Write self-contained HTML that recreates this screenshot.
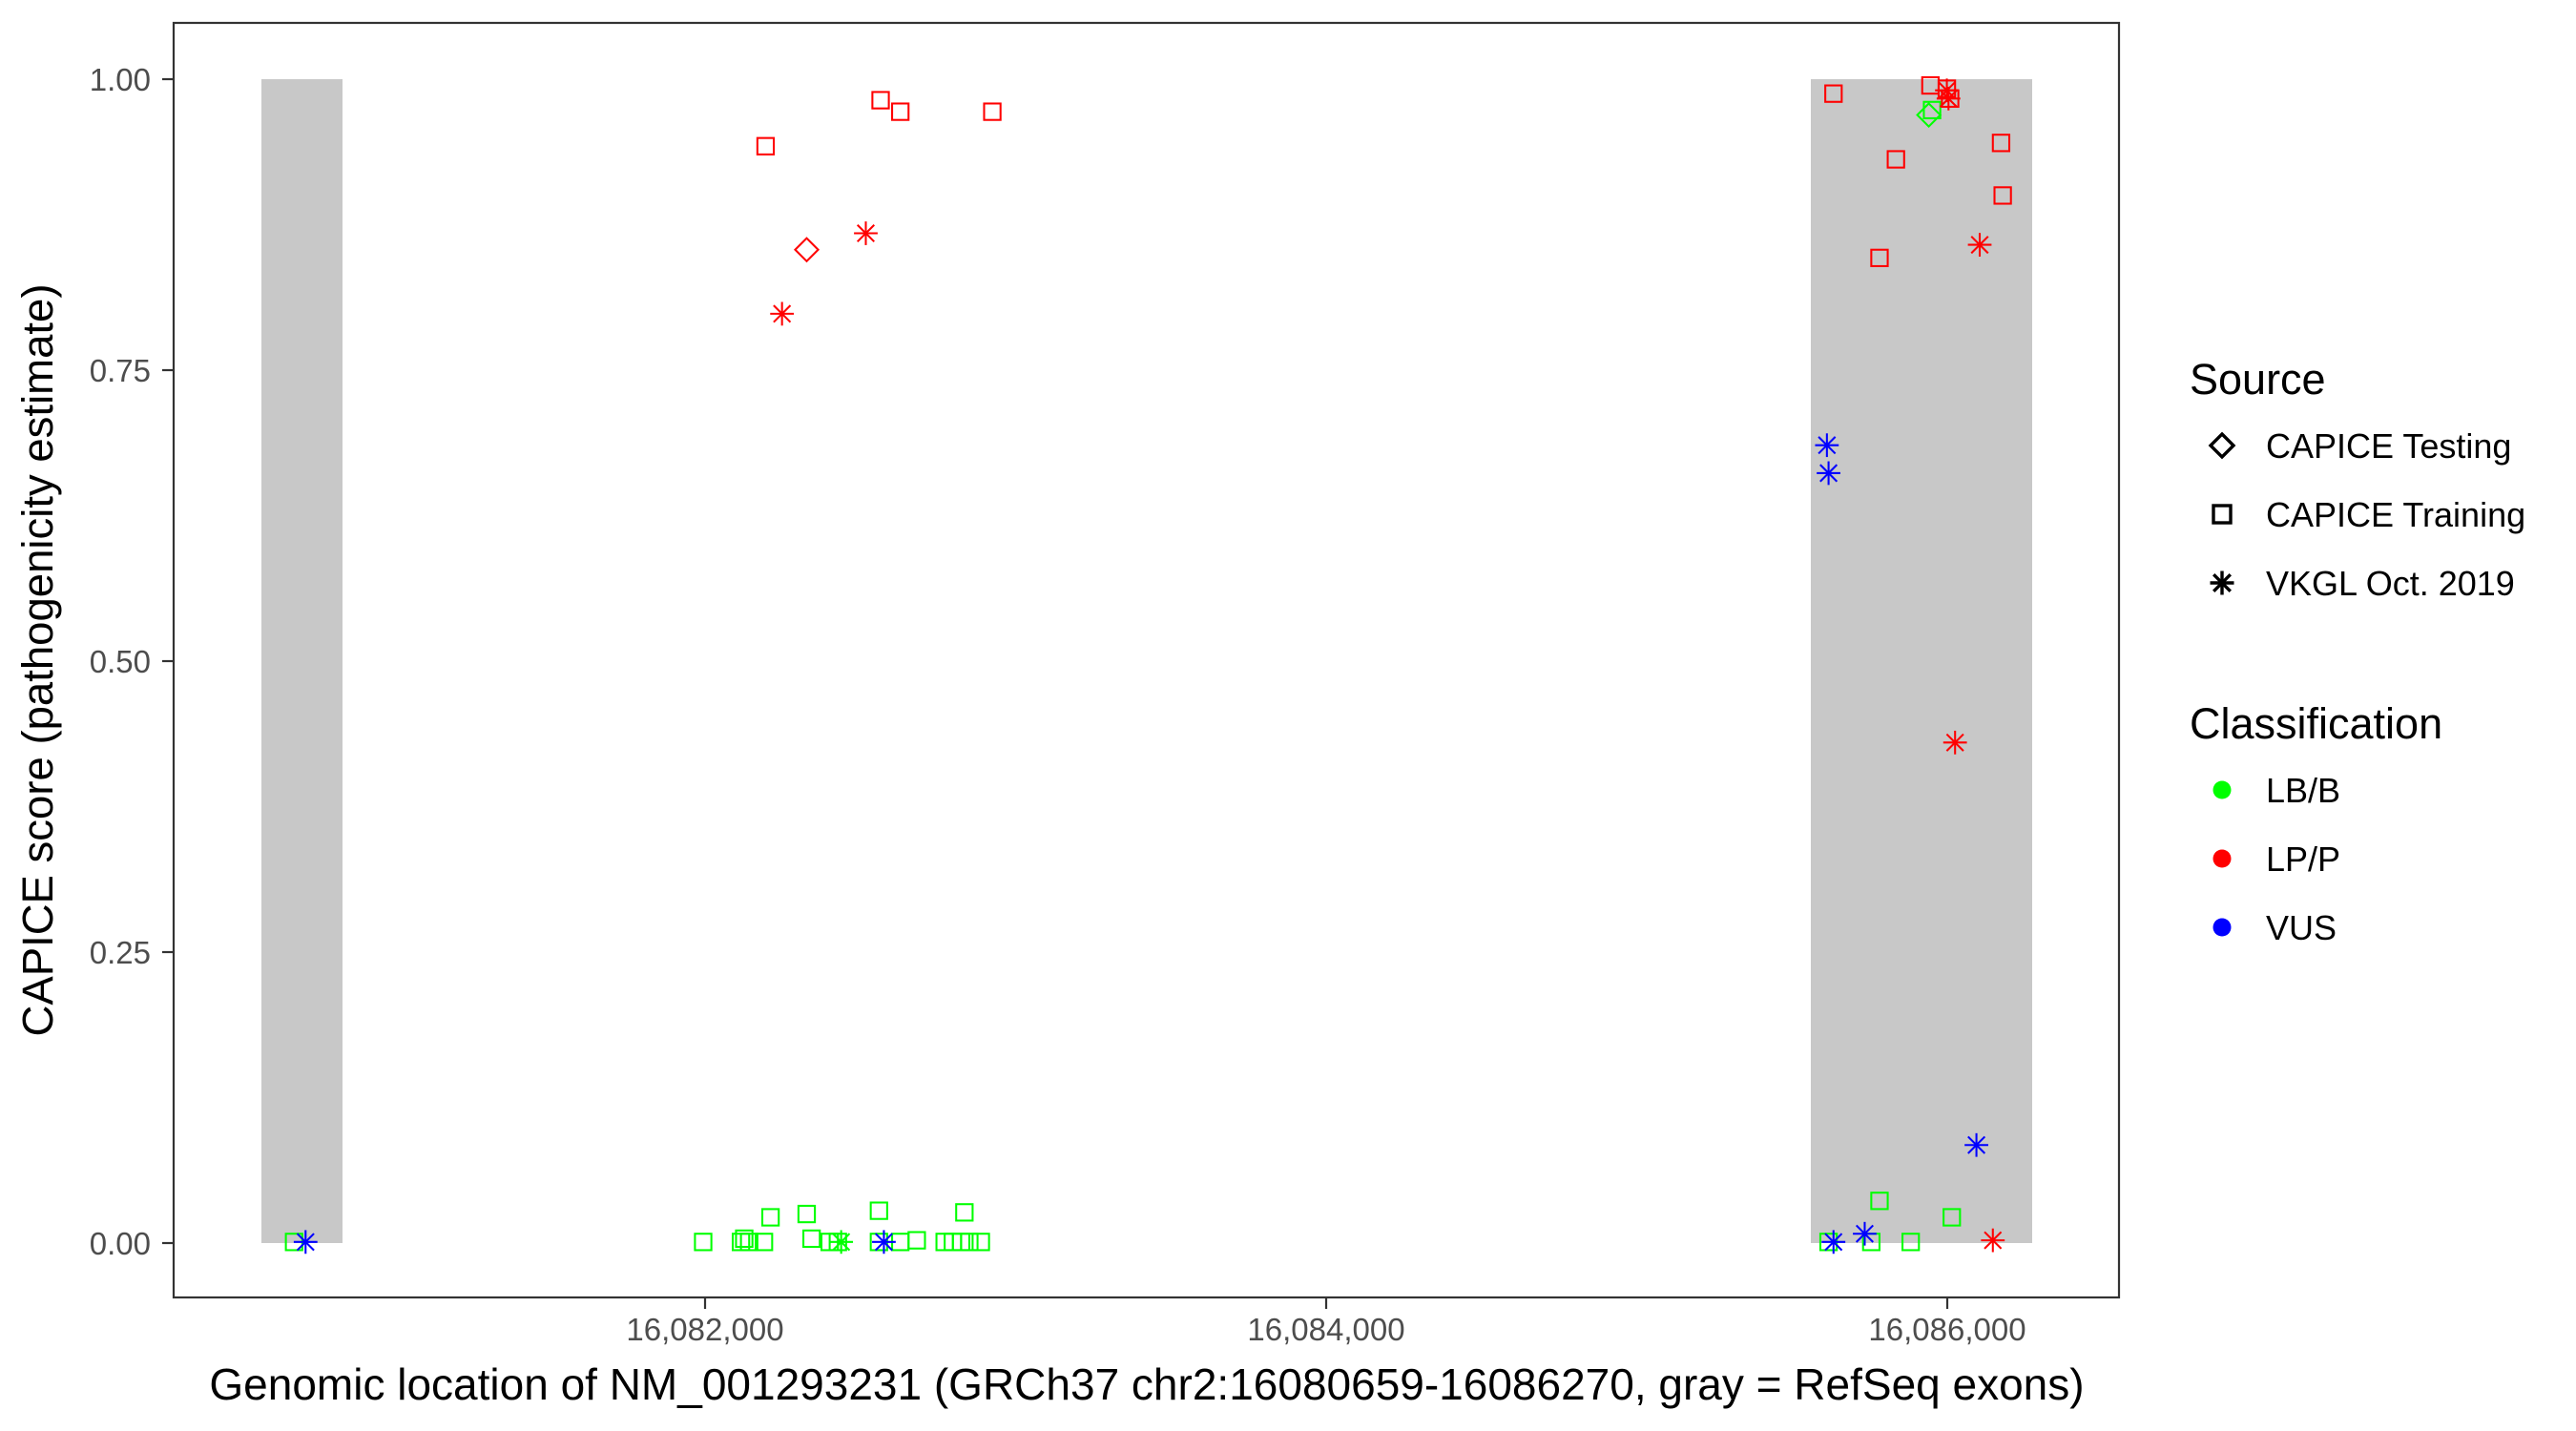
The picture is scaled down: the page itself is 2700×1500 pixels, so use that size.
<!DOCTYPE html>
<html><head><meta charset="utf-8"><style>
html,body{margin:0;padding:0;background:#fff}
svg{display:block}
text{font-family:"Liberation Sans",Arial,sans-serif}
</style></head><body>
<svg width="2700" height="1500" viewBox="0 0 2700 1500" xmlns="http://www.w3.org/2000/svg">
<defs>
<g id="sq"><rect x="-9" y="-9" width="18" height="18" fill="none" stroke-width="3.4"/></g>
<g id="di"><path d="M0,-12 L12,0 L0,12 L-12,0 Z" fill="none" stroke-width="3.4"/></g>
<g id="as" stroke-width="3.4"><line x1="0" y1="-12.5" x2="0" y2="12.5"/><line x1="-12.5" y1="0" x2="12.5" y2="0"/><line x1="-8.8" y1="-8.8" x2="8.8" y2="8.8"/><line x1="-8.8" y1="8.8" x2="8.8" y2="-8.8"/></g>
<g id="a" ><line x1="0" y1="-7.2" x2="0" y2="7.2"/><line x1="-7.2" y1="0" x2="7.2" y2="0"/><line x1="-5.1" y1="-5.1" x2="5.1" y2="5.1"/><line x1="-5.1" y1="5.1" x2="5.1" y2="-5.1"/></g>
</defs>
<rect x="0" y="0" width="2700" height="1500" fill="#fff"/>
<rect x="274" y="83" width="85" height="1220" fill="#c8c8c8"/>
<rect x="1898" y="83" width="232" height="1220" fill="#c8c8c8"/>
<rect x="182" y="24" width="2039" height="1336" fill="none" stroke="#333" stroke-width="2.2"/>
<g stroke="#333" stroke-width="2.2">
<line x1="170" y1="83" x2="182" y2="83"/><line x1="170" y1="388" x2="182" y2="388"/><line x1="170" y1="693" x2="182" y2="693"/><line x1="170" y1="998" x2="182" y2="998"/><line x1="170" y1="1303" x2="182" y2="1303"/>
<line x1="739" y1="1360" x2="739" y2="1372"/><line x1="1390" y1="1360" x2="1390" y2="1372"/><line x1="2041" y1="1360" x2="2041" y2="1372"/>
</g>
<g fill="#4d4d4d" font-size="33" text-anchor="end">
<text x="158" y="95">1.00</text><text x="158" y="400">0.75</text><text x="158" y="705">0.50</text><text x="158" y="1010">0.25</text><text x="158" y="1315">0.00</text>
</g>
<g fill="#4d4d4d" font-size="33" text-anchor="middle">
<text x="739" y="1405">16,082,000</text><text x="1390" y="1405">16,084,000</text><text x="2041" y="1405">16,086,000</text>
</g>
<text x="1202" y="1467" font-size="46" text-anchor="middle" fill="#000">Genomic location of NM_001293231 (GRCh37 chr2:16080659-16086270, gray = RefSeq exons)</text>
<text transform="translate(55,692) rotate(-90)" font-size="45.5" text-anchor="middle" fill="#000">CAPICE score (pathogenicity estimate)</text>
<g transform="scale(1.722)">
<g stroke="#00ff00" fill="none" stroke-width="1.2">
<rect x="174" y="751" width="10" height="10"/><rect x="423" y="751" width="10" height="10"/><rect x="446" y="751" width="10" height="10"/><rect x="448" y="749" width="10" height="10"/><rect x="451" y="751" width="10" height="10"/><rect x="460" y="751" width="10" height="10"/><rect x="464" y="736" width="10" height="10"/><rect x="486" y="734" width="10" height="10"/><rect x="489" y="749" width="10" height="10"/><rect x="500" y="751" width="10" height="10"/><rect x="505" y="751" width="10" height="10"/><rect x="530" y="732" width="10" height="10"/><rect x="530" y="751" width="10" height="10"/><rect x="543" y="751" width="10" height="10"/><rect x="553" y="750" width="10" height="10"/><rect x="570" y="751" width="10" height="10"/><rect x="575" y="751" width="10" height="10"/><rect x="580" y="751" width="10" height="10"/><rect x="585" y="751" width="10" height="10"/><rect x="592" y="751" width="10" height="10"/><rect x="582" y="733" width="10" height="10"/><rect x="1139" y="726" width="10" height="10"/><rect x="1134" y="751" width="10" height="10"/><rect x="1158" y="751" width="10" height="10"/><rect x="1183" y="736" width="10" height="10"/><rect x="1108" y="751" width="10" height="10"/><rect x="1171" y="62" width="10" height="10"/>
<path d="M1174,63 L1181,70 L1174,77 L1167,70 Z"/>
</g>
<g stroke="#ff0000" fill="none" stroke-width="1.2">
<rect x="461" y="84" width="10" height="10"/><rect x="531" y="56" width="10" height="10"/><rect x="543" y="63" width="10" height="10"/><rect x="599" y="63" width="10" height="10"/><rect x="1111" y="52" width="10" height="10"/><rect x="1170" y="47" width="10" height="10"/><rect x="1149" y="92" width="10" height="10"/><rect x="1139" y="152" width="10" height="10"/><rect x="1213" y="82" width="10" height="10"/><rect x="1214" y="114" width="10" height="10"/><rect x="1182" y="55" width="10" height="10"/><rect x="1180" y="49" width="10" height="10"/>
<path d="M491,145 L498,152 L491,159 L484,152 Z"/>
</g>
<g stroke="#ff0000" stroke-width="1.2">
<use href="#a" x="476" y="191"/><use href="#a" x="527" y="142"/><use href="#a" x="1205" y="149"/><use href="#a" x="1190" y="452"/><use href="#a" x="1213" y="755"/><use href="#a" x="1185" y="55"/><use href="#a" x="1186" y="60"/>
</g>
<g stroke="#00ff00" stroke-width="1.2"><use href="#a" x="512" y="756"/></g>
<g stroke="#0000ff" stroke-width="1.2">
<use href="#a" x="1112" y="271"/><use href="#a" x="1113" y="288"/><use href="#a" x="1203" y="697"/><use href="#a" x="1135" y="751"/><use href="#a" x="1116" y="756"/><use href="#a" x="186" y="756"/><use href="#a" x="538" y="756"/>
</g>
</g>
<text x="2295" y="413" font-size="45" fill="#000">Source</text>
<use href="#di" x="2329" y="467" stroke="#000"/>
<use href="#sq" x="2329" y="539" stroke="#000"/>
<use href="#as" x="2329" y="611" stroke="#000"/>
<g font-size="36" fill="#000">
<text x="2375" y="480">CAPICE Testing</text>
<text x="2375" y="552">CAPICE Training</text>
<text x="2375" y="624">VKGL Oct. 2019</text>
</g>
<text x="2295" y="774" font-size="45" fill="#000">Classification</text>
<circle cx="2329" cy="828" r="9.5" fill="#00ff00"/>
<circle cx="2329" cy="900" r="9.5" fill="#ff0000"/>
<circle cx="2329" cy="972" r="9.5" fill="#0000ff"/>
<g font-size="36" fill="#000">
<text x="2375" y="841">LB/B</text>
<text x="2375" y="913">LP/P</text>
<text x="2375" y="985">VUS</text>
</g>
</svg>
</body></html>
